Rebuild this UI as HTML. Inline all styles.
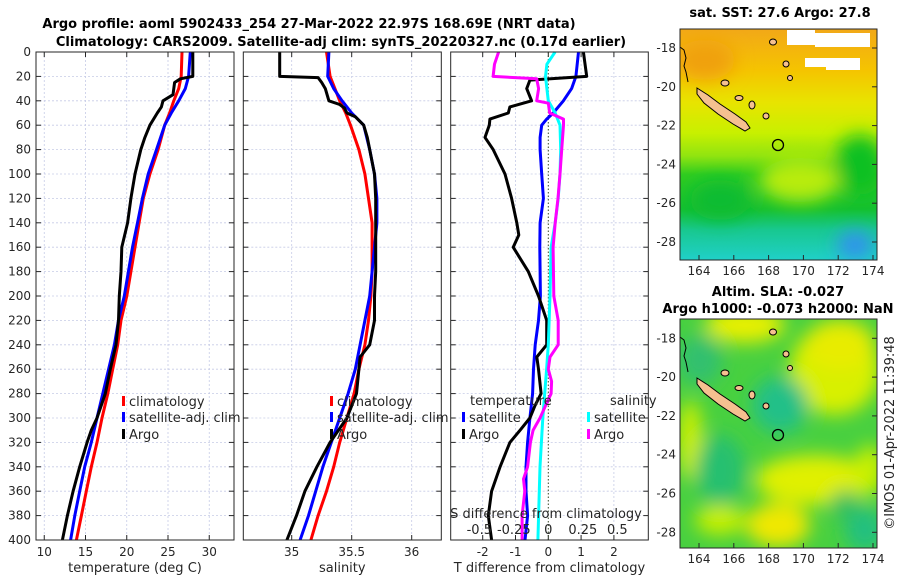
<!DOCTYPE html>
<html><head><meta charset="utf-8">
<style>
html,body{margin:0;padding:0;background:#fff;}
svg{display:block;font-family:"DejaVu Sans","Liberation Sans",sans-serif;}
.tk{font-size:12px;fill:#262626;}
.tt{font-size:13px;font-weight:bold;fill:#000;}
.lb{font-size:13px;fill:#262626;}
</style></head>
<body>
<svg id="fig" width="900" height="580" viewBox="0 0 900 580">
<defs>
<linearGradient id="sstg" x1="0" y1="0" x2="0" y2="1">
<stop offset="0" stop-color="#f2a818"/><stop offset="0.18" stop-color="#f5c400"/>
<stop offset="0.32" stop-color="#e8e400"/><stop offset="0.45" stop-color="#c8f000"/>
<stop offset="0.55" stop-color="#90e410"/><stop offset="0.63" stop-color="#30cc20"/>
<stop offset="0.78" stop-color="#14c030"/><stop offset="0.87" stop-color="#18c890"/>
<stop offset="1" stop-color="#20d0c8"/></linearGradient>
<filter id="bl" x="-50%" y="-50%" width="200%" height="200%"><feGaussianBlur stdDeviation="9"/></filter>
<clipPath id="cm1"><rect x="680" y="29" width="197" height="231"/></clipPath>
<clipPath id="cm2"><rect x="680" y="319" width="197" height="229"/></clipPath>
</defs>
<text class="tt" x="309" y="28" text-anchor="middle">Argo profile: aoml 5902433_254 27-Mar-2022 22.97S 168.69E (NRT data)</text>
<text class="tt" x="341" y="46" text-anchor="middle">Climatology: CARS2009. Satellite-adj clim: synTS_20220327.nc (0.17d earlier)</text>
<g id="panels"></g>

<!-- top map -->
<g clip-path="url(#cm1)">
<rect x="680" y="29" width="197" height="231" fill="url(#sstg)"/>
<g filter="url(#bl)">
<ellipse cx="800" cy="180" rx="40" ry="22" fill="#b8ec10"/>
<ellipse cx="860" cy="165" rx="25" ry="30" fill="#10c020"/>
<ellipse cx="720" cy="200" rx="30" ry="20" fill="#10bc30"/>
<ellipse cx="855" cy="245" rx="18" ry="14" fill="#3090f0"/>
<ellipse cx="705" cy="60" rx="30" ry="20" fill="#f0a010"/>
</g>
<rect x="787" y="30" width="28" height="15" fill="#fff"/>
<rect x="815" y="33" width="55" height="14" fill="#fff"/>
<rect x="805" y="58" width="22" height="9" fill="#fff"/>
<rect x="826" y="58" width="34" height="12" fill="#fff"/>
<polyline points="680,47 684,50 686,58 684,66 686,72 688,82" fill="none" stroke="#000" stroke-width="1"/>
</g>
<g stroke="#000" stroke-width="1" fill="#f5c090">
<polygon points="697,88 708,95 720,104 735,114 746,122 750,128 745,131 733,124 718,114 704,103 697,94"/>
<ellipse cx="725" cy="83" rx="4" ry="3"/><ellipse cx="739" cy="98" rx="4" ry="2.5"/>
<ellipse cx="752" cy="105" rx="3" ry="4"/><ellipse cx="766" cy="116" rx="3" ry="3"/>
<ellipse cx="773" cy="42" rx="3.5" ry="3"/><ellipse cx="786" cy="64" rx="3" ry="3"/><ellipse cx="790" cy="78" rx="2.5" ry="2.5"/>
<circle cx="778" cy="145" r="5.5" fill="none" stroke-width="1.3"/>
</g>
<rect x="680" y="29" width="197" height="231" fill="none" stroke="#262626"/>
<text class="tt" x="780" y="17" text-anchor="middle">sat. SST: 27.6 Argo: 27.8</text>

<!-- bottom map -->
<g clip-path="url(#cm2)">
<rect x="680" y="319" width="197" height="229" fill="#48d040"/>
<g filter="url(#bl)">
<ellipse cx="745" cy="325" rx="40" ry="18" fill="#e8f000"/>
<ellipse cx="835" cy="370" rx="45" ry="45" fill="#d8f000"/>
<ellipse cx="840" cy="345" rx="35" ry="25" fill="#e8ec00"/>
<ellipse cx="815" cy="480" rx="60" ry="25" fill="#e0f000"/>
<ellipse cx="778" cy="525" rx="32" ry="22" fill="#f0e800"/>
<ellipse cx="720" cy="520" rx="25" ry="15" fill="#c8f000"/>
<ellipse cx="870" cy="470" rx="15" ry="25" fill="#c8f000"/>
<ellipse cx="690" cy="440" rx="12" ry="40" fill="#d0f000"/>
<ellipse cx="780" cy="405" rx="28" ry="28" fill="#20c088"/>
<ellipse cx="720" cy="470" rx="25" ry="35" fill="#28c070"/>
<ellipse cx="865" cy="530" rx="20" ry="22" fill="#20c080"/>
<ellipse cx="845" cy="505" rx="15" ry="15" fill="#30c060"/>
<ellipse cx="700" cy="360" rx="22" ry="25" fill="#30c070"/>
</g>
<polyline points="680,337 684,340 686,348 684,356 686,362 688,372" fill="none" stroke="#000" stroke-width="1"/>
</g>
<g stroke="#000" stroke-width="1" fill="#f5c090">
<polygon points="697,378 708,385 720,394 735,404 746,412 750,418 745,421 733,414 718,404 704,393 697,384"/>
<ellipse cx="725" cy="373" rx="4" ry="3"/><ellipse cx="739" cy="388" rx="4" ry="2.5"/>
<ellipse cx="752" cy="395" rx="3" ry="4"/><ellipse cx="766" cy="406" rx="3" ry="3"/>
<ellipse cx="773" cy="332" rx="3.5" ry="3"/><ellipse cx="786" cy="354" rx="3" ry="3"/><ellipse cx="790" cy="368" rx="2.5" ry="2.5"/>
<circle cx="778" cy="435" r="5.5" fill="none" stroke-width="1.3"/>
</g>
<rect x="680" y="319" width="197" height="229" fill="none" stroke="#262626"/>
<text class="tt" x="778" y="296" text-anchor="middle">Altim. SLA: -0.027</text>
<text class="tt" x="778" y="313" text-anchor="middle">Argo h1000: -0.073 h2000: NaN</text>
<text class="lb" x="0" y="0" transform="translate(894,433) rotate(-90)" text-anchor="middle">©IMOS 01-Apr-2022 11:39:48</text>
<g id="mapaxes"></g>
</svg>
<script>
// ---------- data ----------
const depthTicks = [0,20,40,60,80,100,120,140,160,180,200,220,240,260,280,300,320,340,360,380,400];
const tempTicks = [10,15,20,25,30];
const salTicks = [35,35.5,36];
const tdiffTicks = [-2,-1,0,1,2];
const sdiffTicks = [-0.5,-0.25,0,0.25,0.5];
const sdiffTickLabels = ["-0.5","-0.25","0","0.25","0.5"];

const climDepth = [0,20,30,40,50,60,80,100,120,140,160,180,200,220,240,260,280,300,320,340,360,380,400];
const tempClim = [26.7,26.6,26.3,25.7,25.2,24.6,23.8,22.8,22.0,21.5,21.0,20.5,20.0,19.3,18.9,18.3,17.7,17.0,16.4,15.7,15.1,14.5,13.9];
const tempSat = [27.7,27.5,27.1,26.3,25.4,24.6,23.6,22.6,21.9,21.3,20.7,20.2,19.7,19.0,18.5,17.8,17.1,16.4,15.7,14.9,14.3,13.7,13.2];
const tempArgoDepth = [0,20,22,25,30,35,40,45,50,60,70,80,100,120,140,160,180,200,220,240,260,280,300,310,320,340,360,380,400];
const tempArgo = [28.0,28.0,26.5,25.8,25.7,25.6,24.4,24.2,23.7,22.8,22.2,21.7,21.0,20.5,20.1,19.4,19.3,19.1,19.0,18.7,18.0,17.4,16.4,15.7,15.2,14.3,13.5,12.8,12.2];

const salClim = [35.29,35.32,35.36,35.40,35.45,35.49,35.56,35.61,35.64,35.67,35.67,35.67,35.66,35.64,35.61,35.56,35.52,35.46,35.40,35.35,35.29,35.22,35.16];
const salSat = [35.31,35.30,35.35,35.42,35.50,35.60,35.65,35.69,35.71,35.71,35.69,35.67,35.65,35.61,35.57,35.53,35.47,35.40,35.33,35.26,35.20,35.14,35.07];
const salArgoDepth = [0,20,21,25,30,40,43,46,50,53,60,70,80,100,120,140,160,180,200,220,240,250,260,280,300,320,340,360,380,400];
const salArgo = [34.90,34.90,35.22,35.25,35.28,35.31,35.40,35.44,35.46,35.53,35.60,35.63,35.65,35.69,35.70,35.70,35.70,35.70,35.69,35.69,35.65,35.57,35.56,35.54,35.46,35.32,35.21,35.11,35.04,34.96];

const dTArgoDepth = [0,20,23,30,40,45,50,55,60,70,80,100,120,140,150,160,180,200,220,240,250,260,280,290,300,310,320,340,360,380,400];
const dTArgo = [1.07,1.17,-0.56,-0.66,-0.51,-1.17,-1.22,-1.78,-1.8,-1.93,-1.68,-1.32,-1.12,-0.96,-0.9,-1.07,-0.61,-0.30,-0.05,-0.05,-0.35,-0.30,-0.22,-0.41,-0.56,-0.86,-1.17,-1.47,-1.73,-1.83,-1.73];
const dTSatDepth = [0,20,30,40,50,55,60,70,80,100,120,140,160,180,200,220,240,260,280,300,320,340,360,380,400];
const dTSat = [0.92,0.84,0.71,0.46,0.15,-0.05,-0.2,-0.25,-0.25,-0.2,-0.15,-0.25,-0.26,-0.25,-0.24,-0.30,-0.40,-0.45,-0.48,-0.56,-0.63,-0.68,-0.68,-0.63,-0.71];
const dSSatDepth = [0,10,20,40,50,60,80,100,120,140,160,200,240,260,280,300,320,340,360,380,400];
const dSSat = [0.049,-0.01,-0.02,0,0.05,0.085,0.09,0.085,0.072,0.05,0.02,0.012,0,-0.012,-0.026,-0.04,-0.05,-0.06,-0.065,-0.07,-0.075];
const dSArgoDepth = [0,10,20,22,30,40,42,50,55,60,80,100,120,140,160,200,220,240,250,260,270,280,290,300,310,320,340,350,360,380,400];
const dSArgo = [-0.36,-0.39,-0.40,-0.084,-0.07,-0.084,0,0.01,0.11,0.11,0.097,0.085,0.07,0.05,0.035,0.04,0.072,0.072,0.012,0,0.024,0.02,-0.02,-0.06,-0.11,-0.13,-0.15,-0.18,-0.17,-0.19,-0.19];

const lonTicks = [164,166,168,170,172,174];
const latTicks = [-18,-20,-22,-24,-26,-28];

// ---------- drawing ----------
const NS = "http://www.w3.org/2000/svg";
const root = document.getElementById("panels");
function mk(tag, attrs, parent){
  const e = document.createElementNS(NS, tag);
  for (const k in attrs) e.setAttribute(k, attrs[k]);
  (parent||root).appendChild(e); return e;
}
const TOP = 52, BOT = 540;
const yD = d => TOP + (d/400)*(BOT-TOP);
function lin(d0,d1,p0,p1){ return v => p0 + (v-d0)/(d1-d0)*(p1-p0); }

function panel(name, x0, x1, xs, xticks, xlabels, gridT, label, leftLabels){
  const g = mk("g", {});
  
  
  depthTicks.forEach(d => {
    const l = mk("line",{x1:x0,x2:x1,y1:yD(d),y2:yD(d),stroke:"#c6cbe6","stroke-width":0.8,"stroke-dasharray":"2,2"},g);
    
    
  });
  gridT.forEach(v => {
    const l = mk("line",{x1:xs(v),x2:xs(v),y1:TOP,y2:BOT,stroke:"#c6cbe6","stroke-width":0.8,"stroke-dasharray":"2,2"},g);
    
    
  });
  depthTicks.forEach(d => {
    mk("line",{x1:x0,x2:x0+5,y1:yD(d),y2:yD(d),stroke:"#262626"},g);
    mk("line",{x1:x1-5,x2:x1,y1:yD(d),y2:yD(d),stroke:"#262626"},g);
    if (leftLabels){
      const t = mk("text",{x:x0-5,y:yD(d)+4,"text-anchor":"end",class:"tk"},g);
      t.textContent = d;
      
      
    }
  });
  xticks.forEach((v,i) => {
    mk("line",{x1:xs(v),x2:xs(v),y1:BOT,y2:BOT-5,stroke:"#262626"},g);
    mk("line",{x1:xs(v),x2:xs(v),y1:TOP,y2:TOP+5,stroke:"#262626"},g);
    const t = mk("text",{x:xs(v),y:BOT+16,"text-anchor":"middle",class:"tk"},g);
    t.textContent = xlabels[i];
    
    
  });
  const t = mk("text",{x:(x0+x1)/2,y:BOT+32,"text-anchor":"middle",class:"lb"},g);
  t.textContent = label;
  
  
  return g;
}
function frame(g,x0,x1){
  const r = mk("rect",{x:x0,y:TOP,width:x1-x0,height:BOT-TOP,fill:"none",stroke:"#262626"},g);
  
  
}
function series(g, name, xs, vals, depths, color){
  const pts = vals.map((v,i) => xs(v).toFixed(1)+","+yD(depths[i]).toFixed(1)).join(" ");
  const p = mk("polyline",{points:pts,fill:"none",stroke:color,"stroke-width":3,"stroke-linejoin":"round"},g);
  
  
}
function legendEntry(g, name, x, y, color, text){
  mk("rect",{x:x,y:y-9,width:3,height:10,fill:color},g);
  const t = mk("text",{x:x+7,y:y+1,class:"lb"},g);
  t.textContent = text;
  
  
}

// Panel 1: temperature
const xT = lin(9,33,36,234);
const g1 = panel("temperature-panel",36,234,xT,tempTicks,tempTicks.map(String),tempTicks,"temperature (deg C)",true);
series(g1,"temp-climatology-line",xT,tempClim,climDepth,"#ff0000");
series(g1,"temp-satellite-line",xT,tempSat,climDepth,"#0000ff");
series(g1,"temp-argo-line",xT,tempArgo,tempArgoDepth,"#000000");
legendEntry(g1,"legend-climatology",122,405,"#ff0000","climatology");
legendEntry(g1,"legend-satellite-adj",122,421,"#0000ff","satellite-adj. clim");
legendEntry(g1,"legend-argo",122,438,"#000000","Argo");
frame(g1,36,234);

// Panel 2: salinity
const xS = lin(34.6,36.25,243.7,441.7);
const g2 = panel("salinity-panel",243.3,441.3,xS,salTicks,["35","35.5","36"],salTicks,"salinity",false);
series(g2,"sal-climatology-line",xS,salClim,climDepth,"#ff0000");
series(g2,"sal-satellite-line",xS,salSat,climDepth,"#0000ff");
series(g2,"sal-argo-line",xS,salArgo,salArgoDepth,"#000000");
legendEntry(g2,"legend-climatology",330,405,"#ff0000","climatology");
legendEntry(g2,"legend-satellite-adj",330,421,"#0000ff","satellite-adj. clim");
legendEntry(g2,"legend-argo",330,438,"#000000","Argo");
frame(g2,243.3,441.3);

// Panel 3: differences
const xDT = lin(0,1,548.3,581.1);
const xDS = lin(0,1,548.3,686.3);
const g3 = panel("difference-panel",450.7,648.3,xDT,tdiffTicks,tdiffTicks.map(String),[-2,-1,1,2],"T difference from climatology",false);
const zl = mk("line",{x1:xDT(0),x2:xDT(0),y1:TOP,y2:BOT,stroke:"#3a4a2a","stroke-width":1,"stroke-dasharray":"1.5,2"},g3);


series(g3,"tdiff-satellite-line",xDT,dTSat,dTSatDepth,"#0000ff");
series(g3,"tdiff-argo-line",xDT,dTArgo,dTArgoDepth,"#000000");
series(g3,"sdiff-satellite-line",xDS,dSSat,dSSatDepth,"#00ffff");
series(g3,"sdiff-argo-line",xDS,dSArgo,dSArgoDepth,"#ff00ff");
const lt = mk("text",{x:470,y:405,class:"lb"},g3); lt.textContent="temperature";


const ls = mk("text",{x:610,y:405,class:"lb"},g3); ls.textContent="salinity";


legendEntry(g3,"legend-tdiff-satellite",462,421,"#0000ff","satellite");
legendEntry(g3,"legend-tdiff-argo",462,438,"#000000","Argo");
legendEntry(g3,"legend-sdiff-satellite",587,421,"#00ffff","satellite");
legendEntry(g3,"legend-sdiff-argo",587,438,"#ff00ff","Argo");
const st = mk("text",{x:546,y:518,"text-anchor":"middle",class:"lb"},g3); st.textContent="S difference from climatology";


sdiffTicks.forEach((v,i) => {
  const t = mk("text",{x:xDS(v),y:534,"text-anchor":"middle",class:"lb"},g3);
  t.textContent = sdiffTickLabels[i];
  
  
});
frame(g3,450.7,648.3);

// Map axes
const ma = document.getElementById("mapaxes");
const xLon = lin(164,174,699,873);
[[48,260],[338.3,548]].forEach((m,mi) => {
  const yLat = v => m[0] + (-18 - v)*19.4;
  latTicks.forEach(v => {
    mk("line",{x1:877,x2:872,y1:yLat(v),y2:yLat(v),stroke:"#262626"},ma);
    const t = mk("text",{x:676,y:yLat(v)+4,"text-anchor":"end",class:"tk"},ma);
    t.textContent = v;
    
    
  });
  lonTicks.forEach(v => {
    mk("line",{x1:xLon(v),x2:xLon(v),y1:m[1],y2:m[1]-5,stroke:"#262626"},ma);
    const t = mk("text",{x:xLon(v),y:m[1]+15,"text-anchor":"middle",class:"tk"},ma);
    t.textContent = v;
    
    
  });
});
</script>
</body></html>
